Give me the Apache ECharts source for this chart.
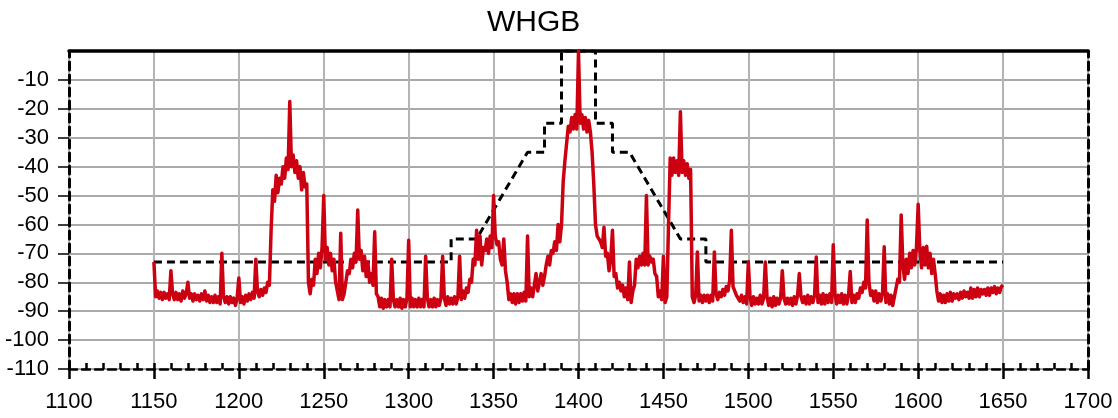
<!DOCTYPE html>
<html>
<head>
<meta charset="utf-8">
<script src="https://cdn.jsdelivr.net/npm/echarts@6/dist/echarts.min.js"></script>
<style>
html,body{margin:0;padding:0;background:#fff;}
#chart{width:1118px;height:418px;}
</style>
</head>
<body>
<div id="chart"></div>
<script>
// ---- data ----
const titleText = 'WHGB';
const xTicks = [1100, 1150, 1200, 1250, 1300, 1350, 1400, 1450, 1500, 1550, 1600, 1650, 1700];
const yTicks = [-110, -100, -90, -80, -70, -60, -50, -40, -30, -20, -10, 0];
const spectrumStartMHz = 1150;
const spectrumStepMHz = 1;
const spectrumDb = [
  -73, -85, -83, -85.5, -83.5, -86, -83.5, -85.5, -84, -86,
  -76, -84, -86, -83.5, -86, -84, -86.5, -83, -85.5, -84,
  -80, -85.5, -84, -86.5, -84, -86, -84.5, -86.5, -84, -86,
  -83, -86.5, -84.5, -87, -85, -87, -84.5, -87, -85, -87.5,
  -70, -85, -87, -85, -87.5, -85, -87, -85.5, -88, -85.5,
  -78.5, -87, -85, -87.5, -84.5, -86.5, -84, -86, -83.5, -85.5,
  -72, -83.5, -85, -82.5, -84.5, -82, -83.5, -80, -81, -62,
  -48, -52, -43, -49, -44, -46, -40, -44, -37, -41,
  -17.5, -40, -36, -42, -38, -44, -40, -48, -42, -47,
  -46, -80, -84, -79, -81, -72, -77, -70, -75, -68,
  -50, -72, -68, -74, -70, -76, -72, -80, -83, -86,
  -63, -86, -84, -84, -76, -77, -72, -75, -70, -73,
  -55, -72, -69, -76, -71, -78, -73, -80, -77, -81,
  -62.5, -84, -85, -88.5, -85.5, -89, -86, -88.5, -86, -88.5,
  -72, -86, -88.5, -86, -88.5, -85.5, -89, -86, -88.5, -85.5,
  -65.5, -88.5, -85.5, -88.5, -86, -88.5, -85.5, -88.5, -86, -88.5,
  -71, -85.5, -88.5, -86, -88.5, -85.5, -88.5, -86, -88, -85.5,
  -71, -85.5, -88, -85, -87.5, -85.5, -87.5, -85, -87.5, -85,
  -71, -86, -83, -85.5, -82, -83.5, -79, -80, -72, -74,
  -62, -72, -64, -74, -68, -69, -65, -70, -64, -68,
  -50, -64, -67, -66, -72, -74, -65, -76, -80, -86,
  -84, -87, -84, -87.5, -84, -87, -84, -86.5, -83.5, -86.5,
  -64, -85, -82, -85, -81, -77, -83, -80, -77, -81,
  -78, -74, -71, -74, -69, -70, -66, -69, -60, -66,
  -60, -45, -38, -38, -26, -28, -23, -27, -22, -27,
  0, -25, -22, -27, -23, -28, -24, -28, -35, -46,
  -60, -64, -65, -66, -68, -61, -71, -70, -76, -72,
  -62, -78, -77, -82, -80, -83, -81, -85, -82, -86,
  -73, -87, -83, -81, -72, -75, -71, -74, -70, -74,
  -50, -74, -71, -73, -72, -77, -78, -85, -83, -86,
  -71, -87, -85, -60, -37, -43, -37, -42, -38, -43,
  -21, -42, -38, -43, -39, -44, -41, -85, -87, -84.5,
  -69.5, -86.5, -84.5, -87, -84.5, -86.5, -84.5, -87, -84.5, -86.5,
  -69.5, -84, -86, -83.5, -85, -82.5, -84.5, -81.5, -83, -79.5,
  -62, -81.5, -81, -84.5, -84, -86.5, -84.5, -87, -85, -87.5,
  -73, -85, -88, -85, -87.5, -85.5, -87.5, -84.5, -87.5, -85.5,
  -73, -85, -88, -85.5, -88.5, -85, -88, -85.5, -87.5, -85.5,
  -76, -85.5, -87.5, -85.5, -87.5, -85.5, -88, -85, -87.5, -84.5,
  -77, -85, -87, -85, -87.5, -84.5, -87.5, -85, -87, -84.5,
  -71.3, -87, -84.5, -87.5, -84, -87.5, -84.5, -87, -84, -87,
  -67, -84, -87.5, -84.5, -87, -84, -87.5, -84.5, -87.5, -84.5,
  -76.3, -87, -84.5, -87, -84, -85.5, -82, -83.5, -80, -82,
  -58.5, -80, -84.5, -83, -86.5, -83, -87, -84, -86.5, -84,
  -67.7, -87, -84, -87.5, -84.5, -88, -85, -85.5, -79, -80,
  -56.7, -74, -79, -72, -77, -70, -75, -69, -74, -68,
  -53, -69, -75, -68, -74, -67.5, -75, -70, -77, -72,
  -77, -83, -86.5, -84, -87, -84.5, -87, -84, -86.5, -83.5,
  -86.5, -84, -85.5, -84, -86, -83.5, -85.5, -83, -85, -83.5,
  -85.5, -82, -85.5, -82.5, -85, -82, -85, -82.5, -84, -82.5,
  -84.5, -82, -84.5, -82, -83.5, -81.5, -84, -82, -83.5, -81.5,
  -81
];
const maskFreq  = [1150, 1325, 1325, 1340, 1370, 1380, 1380, 1390, 1390, 1410, 1410, 1420, 1420, 1430, 1460, 1475, 1475, 1650];
const maskLevel = [ -73,  -73,  -65,  -65,  -35,  -35,  -25,  -25,    0,    0,  -25,  -25,  -35,  -35,  -65,  -65,  -73,  -73];

// ---- build ----
const spectrumData = spectrumDb.map((v, i) => [spectrumStartMHz + i * spectrumStepMHz, v]);
const maskData = maskFreq.map((f, i) => [f, maskLevel[i]]);

const xMin = xTicks[0], xMax = xTicks[xTicks.length - 1];
const yMin = yTicks[0], yMax = yTicks[yTicks.length - 1];
const font = 'Liberation Sans, Arial, sans-serif';
const gridBox = {left: 69, right: 30, top: 51, bottom: 49, containLabel: false};

const chart = echarts.init(document.getElementById('chart'), null, {renderer: 'canvas'});
chart.setOption({
  animation: false,
  backgroundColor: '#ffffff',
  title: {
    text: titleText,
    left: 487,
    top: 8,
    padding: 0,
    textStyle: {fontFamily: font, fontSize: 30, fontWeight: 'normal', color: '#000'}
  },
  grid: [Object.assign({}, gridBox), Object.assign({}, gridBox)],
  xAxis: [
    {
      type: 'value', gridIndex: 0, position: 'bottom', min: xMin, max: xMax, interval: 50,
      axisLine: {show: false, onZero: false},
      axisTick: {show: true, inside: false, length: 10, lineStyle: {color: '#000', width: 2.5}},
      axisLabel: {show: true, margin: 22, fontFamily: font, fontSize: 22, color: '#000',
        formatter: v => String(v)},
      splitLine: {show: true, lineStyle: {color: '#b4b4b4', width: 2}}
    },
    {
      type: 'value', gridIndex: 0, position: 'top', min: xMin, max: xMax, interval: 50,
      axisLine: {show: true, onZero: false, lineStyle: {color: '#000', width: 3.5}},
      axisTick: {show: false},
      axisLabel: {show: false},
      splitLine: {show: false}
    },
    {
      type: 'value', gridIndex: 1, position: 'bottom', min: xMin, max: xMax, interval: 10,
      axisLine: {show: true, onZero: false, lineStyle: {color: '#000', width: 2.5, type: [8, 5]}},
      axisTick: {show: true, inside: true, length: 6, lineStyle: {color: '#000', width: 2.5}},
      axisLabel: {show: false},
      splitLine: {show: false}
    }
  ],
  yAxis: [
    {
      type: 'value', gridIndex: 0, position: 'left', min: yMin, max: yMax, interval: 10,
      axisLine: {show: true, onZero: false, lineStyle: {color: '#000', width: 3, type: [8, 5]}},
      axisTick: {show: true, inside: false, length: 11, lineStyle: {color: '#000', width: 1.5}},
      axisLabel: {show: true, showMaxLabel: false, margin: 20, fontFamily: font, fontSize: 22, color: '#000'},
      splitLine: {show: true, lineStyle: {color: '#8c8c8c', width: 1.5}}
    },
    {
      type: 'value', gridIndex: 0, position: 'right', min: yMin, max: yMax, interval: 10,
      axisLine: {show: true, onZero: false, lineStyle: {color: '#000', width: 3, type: [8, 5]}},
      axisTick: {show: false},
      axisLabel: {show: false},
      splitLine: {show: false}
    },
    {
      type: 'value', gridIndex: 1, position: 'left', min: yMin, max: yMax, interval: 10,
      axisLine: {show: false, onZero: false},
      axisTick: {show: false},
      axisLabel: {show: false},
      splitLine: {show: false}
    }
  ],
  series: [
    {
      name: 'Mask', type: 'line', xAxisIndex: 0, yAxisIndex: 0,
      data: maskData, showSymbol: false, symbol: 'none', z: 3,
      lineStyle: {color: '#000', width: 3, type: [8, 5]}
    },
    {
      name: 'WHGB', type: 'line', xAxisIndex: 0, yAxisIndex: 0,
      data: spectrumData, showSymbol: false, symbol: 'none', sampling: null, z: 4,
      lineStyle: {color: '#cc0010', width: 3.5, join: 'round'}
    }
  ]
});
</script>
</body>
</html>
